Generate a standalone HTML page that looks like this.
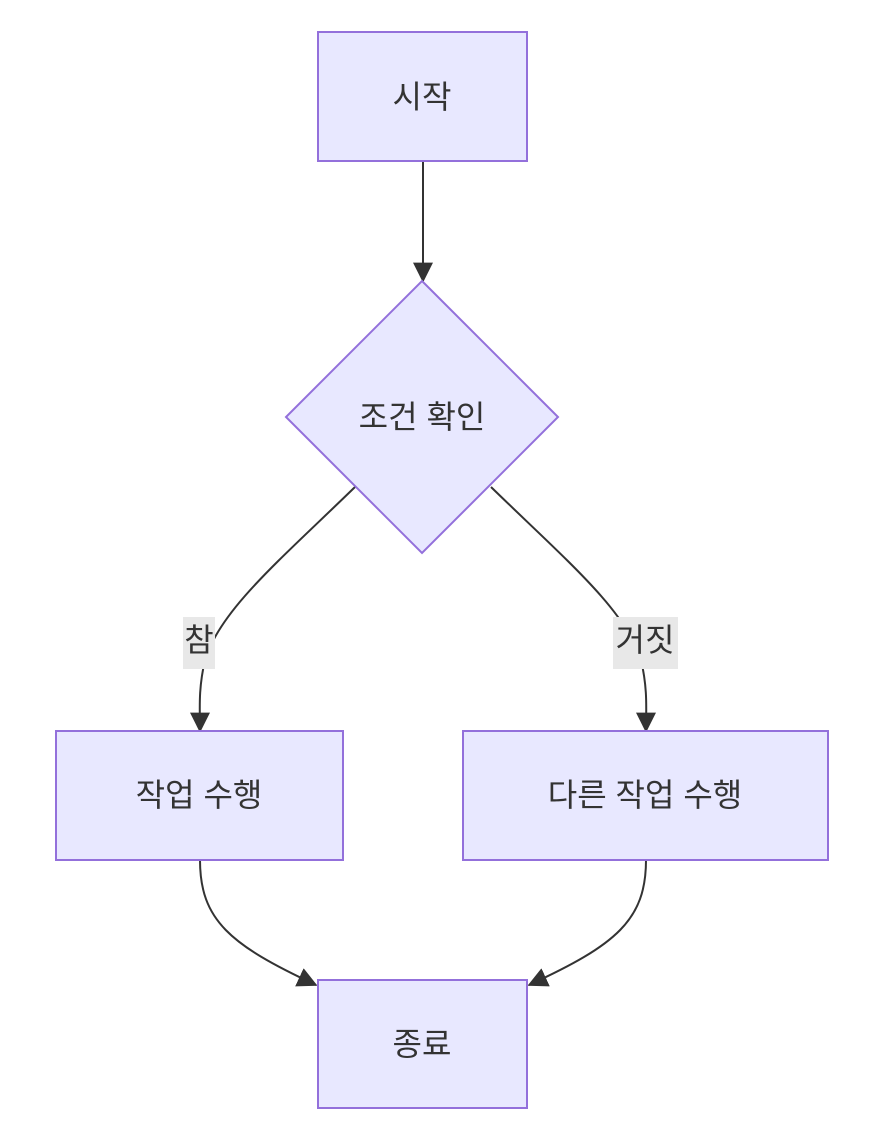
<!DOCTYPE html>
<html><head><meta charset="utf-8"><style>
html,body{margin:0;padding:0;background:#fff;}
svg{display:block;}
text{font-family:"Liberation Sans","Noto Sans CJK KR","NanumGothic",sans-serif;font-size:32px;fill:#333;}
</style></head><body>
<svg width="872" height="1136" viewBox="0 0 872 1136">
<defs><marker id="a" viewBox="0 0 10 10" refX="9" refY="5" markerWidth="10" markerHeight="10" markerUnits="userSpaceOnUse" orient="auto"><path d="M0,0L10,5L0,10z" fill="#333"/></marker>
<marker id="b" viewBox="0 0 12 12" refX="11" refY="6" markerWidth="20" markerHeight="20" markerUnits="userSpaceOnUse" orient="auto"><path d="M0,0L12,6L0,12z" fill="#333"/></marker></defs>
<g fill="none" stroke="#333" stroke-width="2">
<path d="M423,161 C423,210 423,240 423,281" marker-end="url(#b)"/>
<path d="M355,487 C280,560 220,610 205,660 C198,690 200,710 200,731" marker-end="url(#b)"/>
<path d="M491,487 C566,560 626,610 641,660 C648,690 646,710 646,731" marker-end="url(#b)"/>
<path d="M200,860 C200,920 230,945 316,985" marker-end="url(#b)"/>
<path d="M646,860 C646,920 616,945 529,985" marker-end="url(#b)"/>
</g>
<g fill="#e8e8ff" stroke="#9370db" stroke-width="2">
<rect x="318" y="32" width="209" height="129"/>
<polygon points="422,281 558,417 422,553 286,417"/>
<rect x="56" y="731" width="287" height="129"/>
<rect x="463" y="731" width="365" height="129"/>
<rect x="318" y="980" width="209" height="128"/>
</g>
<rect x="183" y="617" width="32" height="52" fill="#e8e8e8"/>
<rect x="613" y="617" width="65" height="52" fill="#e8e8e8"/>
<g text-anchor="middle" dominant-baseline="central">
<text x="422" y="97">시작</text>
<text x="422" y="417">조건 확인</text>
<text x="199" y="640">참</text>
<text x="645" y="640">거짓</text>
<text x="199" y="795">작업 수행</text>
<text x="645" y="795">다른 작업 수행</text>
<text x="422" y="1044">종료</text>
</g>
</svg>
</body></html>
